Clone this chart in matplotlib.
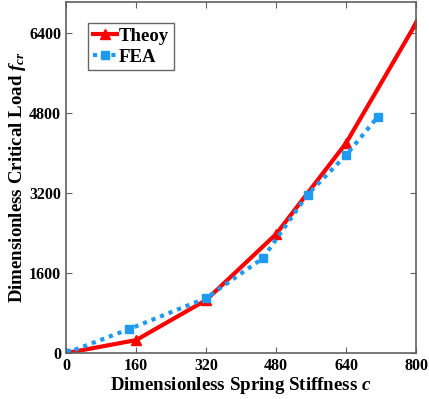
import matplotlib
matplotlib.use('Agg')
import matplotlib.pyplot as plt

plt.rcParams['font.family'] = ['Liberation Serif', 'DejaVu Serif']
plt.rcParams['mathtext.fontset'] = 'custom'
plt.rcParams['mathtext.it'] = 'Liberation Serif:italic:bold'
plt.rcParams['mathtext.rm'] = 'Liberation Serif:bold'

# data
c_theory = [0, 160, 320, 480, 640, 800]
f_theory = [0, 260, 1060, 2380, 4200, 6600]
c_fea = [0, 144, 320, 450, 552, 640, 712]
f_fea = [0, 480, 1100, 1900, 3170, 3960, 4720]
xticks = [0, 160, 320, 480, 640, 800]
yticks = [0, 1600, 3200, 4800, 6400]

fig = plt.figure(figsize=(4.29, 3.99), dpi=100)
ax = fig.add_axes([0.154, 0.115, 0.816, 0.880])

ax.plot(c_theory, f_theory, color='#FF0000', lw=3, marker='^', ms=6.5, label='Theoy')
ax.plot(c_fea, f_fea, color='#1E9BF0', lw=3, ls=(0, (1, 1.2)), marker='s', ms=5.5, label='FEA')

ax.set_xlim(0, 800)
ax.set_ylim(0, 7020)
ax.set_xticks(xticks)
ax.set_yticks(yticks)
ax.tick_params(direction='in', top=True, right=True, length=4, width=0.8,
               color='#606060', labelsize=11.5)
for lab in ax.get_xticklabels() + ax.get_yticklabels():
    lab.set_fontweight('bold')
for s in ax.spines.values():
    s.set_color('#606060')
    s.set_linewidth(1.2)

ax.set_xlabel('Dimensionless Spring Stiffness $c$', fontsize=13.6, fontweight='bold', labelpad=1)
ax.set_ylabel('Dimensionless Critical Load $f_{cr}$', fontsize=13.6, fontweight='bold', labelpad=1)

leg = ax.legend(loc='upper left', bbox_to_anchor=(0.063, 0.94), fancybox=False,
                prop={'weight': 'bold', 'size': 13.5}, handlelength=1.3,
                handletextpad=0.1, borderpad=0.25, labelspacing=0.2, borderaxespad=0)
leg.get_frame().set_edgecolor('#404040')
leg.get_frame().set_linewidth(1)

fig.savefig('out.png', dpi=100)
